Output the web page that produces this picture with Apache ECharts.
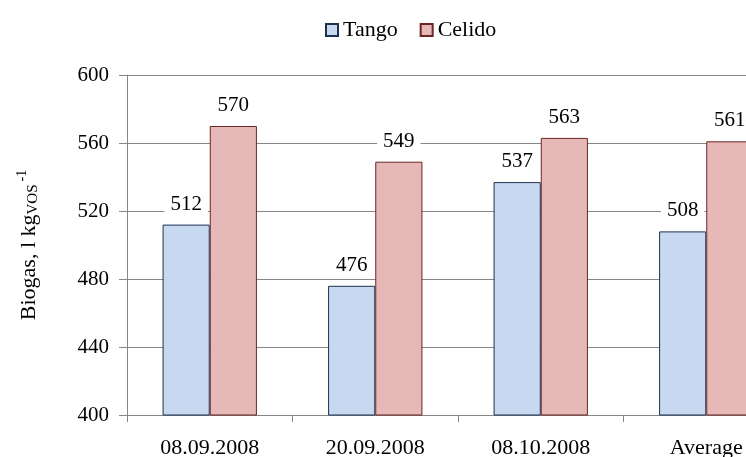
<!DOCTYPE html>
<html>
<head>
<meta charset="utf-8">
<script src="https://cdn.jsdelivr.net/npm/echarts@6/dist/echarts.min.js"></script>
<style>html,body{margin:0;padding:0;background:#fff}#c{width:746px;height:457px}</style>
</head>
<body>
<div id="c"></div>
<script>
const categories = ['08.09.2008', '20.09.2008', '08.10.2008', 'Average'];
const tango = [512, 476, 537, 508];
const celido = [570, 549, 563, 561];
const yTicks = [400, 440, 480, 520, 560, 600];

const FONT = '"Liberation Serif", "Times New Roman", serif';
const chart = echarts.init(document.getElementById('c'));
const labelCfg = {
  show: true, position: 'top', distance: 9,
  color: '#000', fontFamily: FONT, fontSize: 21,
  backgroundColor: '#fff', padding: [1, 6]
};
chart.setOption({
  animation: false,
  backgroundColor: '#fff',
  legend: {
    top: 14, left: 320, itemWidth: 12, itemHeight: 12, itemGap: 22, icon: 'rect',
    textStyle: { fontFamily: FONT, fontSize: 22, color: '#000' },
    data: ['Tango', 'Celido']
  },
  grid: { left: 127, top: 75, bottom: 42, right: -43, outerBoundsMode: 'none', containLabel: false },
  xAxis: {
    type: 'category', data: categories,
    axisLine: { lineStyle: { color: '#868686' } },
    axisTick: { show: true, length: 7, lineStyle: { color: '#868686' } },
    axisLabel: { color: '#000', fontFamily: FONT, fontSize: 22, margin: 22 }
  },
  yAxis: {
    type: 'value', min: yTicks[0], max: yTicks[yTicks.length - 1], interval: 40,
    name: '{n|Biogas, l kg}{sub|VOS}{sup|-1}',
    nameLocation: 'middle', nameGap: 84, nameRotate: 90,
    nameTextStyle: {
      rich: {
        n: { fontFamily: FONT, fontSize: 22, color: '#000' },
        sub: { fontFamily: FONT, fontSize: 15, color: '#000', padding: [8, 0, 0, 0] },
        sup: { fontFamily: FONT, fontSize: 14, color: '#000', padding: [0, 0, 14, 3] }
      }
    },
    axisLine: { show: true, lineStyle: { color: '#868686' } },
    axisTick: { show: true, inside: false, length: 8, lineStyle: { color: '#868686' } },
    splitLine: { lineStyle: { color: '#868686', width: 1 } },
    axisLabel: { color: '#000', fontFamily: FONT, fontSize: 21, margin: 18 }
  },
  series: [
    {
      name: 'Tango', type: 'bar', data: tango,
      barGap: '0%', barCategoryGap: '43%',
      itemStyle: { color: '#c6d9f1', borderColor: '#1f3050', borderWidth: 1 },
      label: labelCfg
    },
    {
      name: 'Celido', type: 'bar', data: celido,
      itemStyle: { color: '#e6b9b8', borderColor: '#6b2525', borderWidth: 1 },
      label: labelCfg
    }
  ]
});
</script>
</body>
</html>
